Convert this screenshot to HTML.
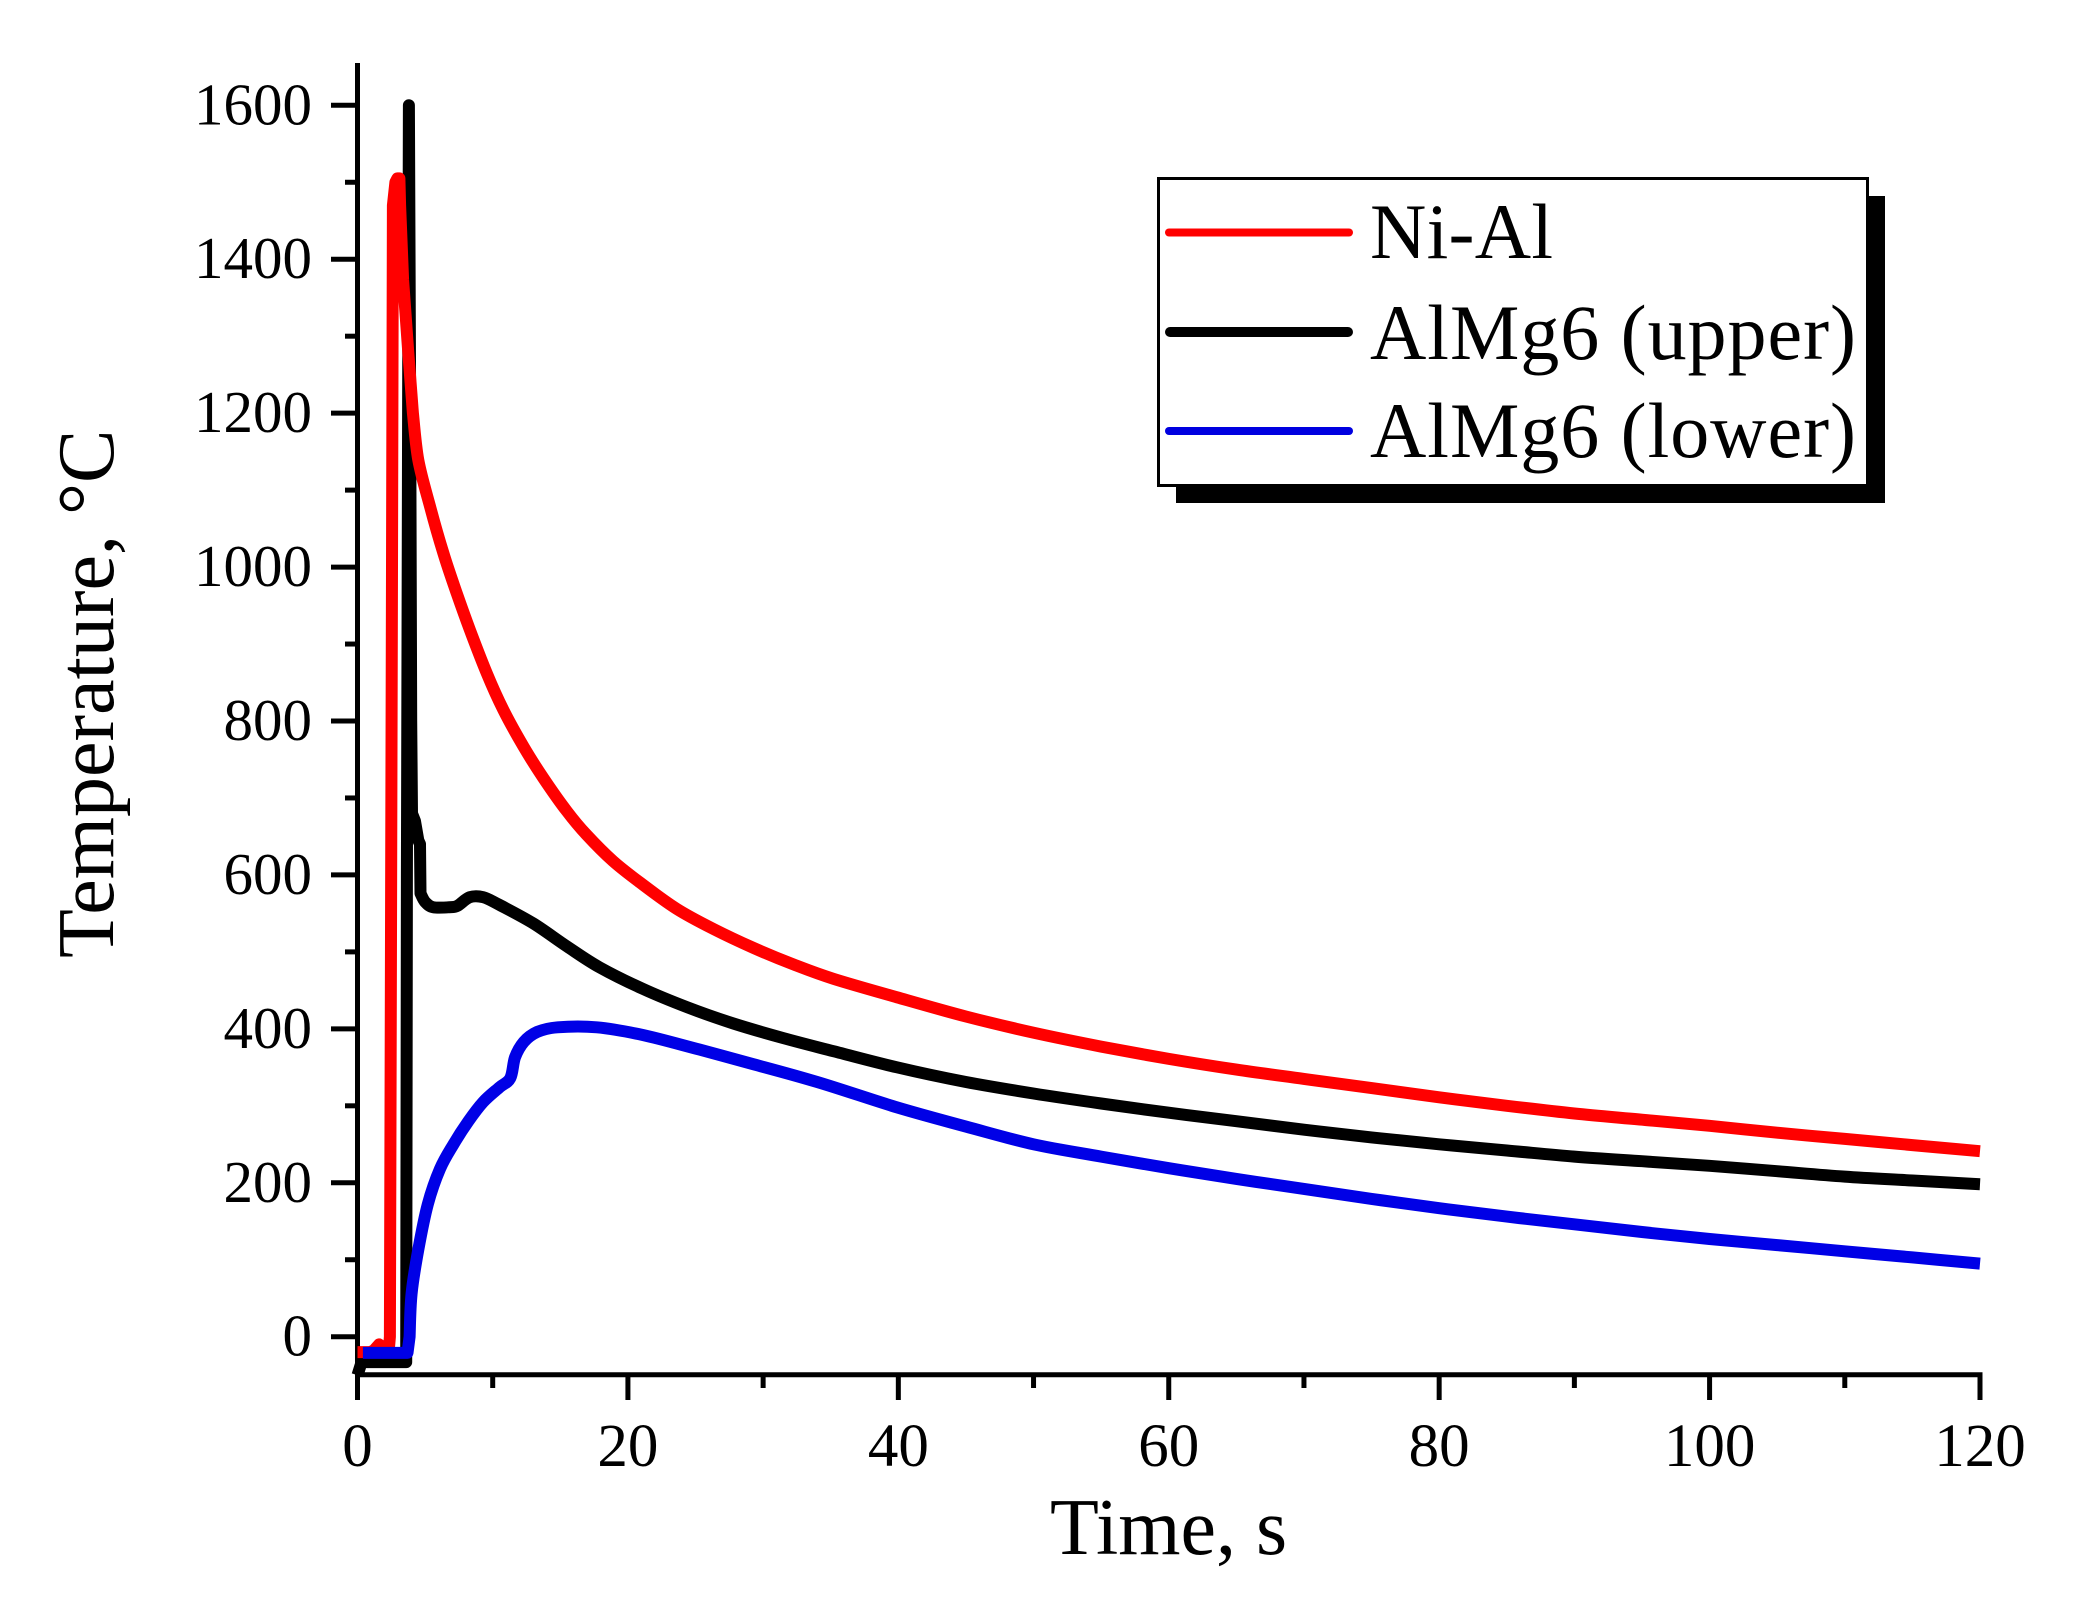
<!DOCTYPE html>
<html lang="en">
<head>
<meta charset="utf-8">
<title>Temperature vs time</title>
<style>
html,body{margin:0;padding:0;background:#fff;}
body{width:2091px;height:1611px;overflow:hidden;}
svg{display:block;font-family:"Liberation Serif",serif;fill:#000;}
</style>
</head>
<body>
<svg id="chart" xmlns="http://www.w3.org/2000/svg" width="2091" height="1611" viewBox="0 0 2091 1611">
  <rect x="0" y="0" width="2091" height="1611" fill="#fff"/>
  <g id="axes"></g>
  <g id="series"></g>
  <text transform="translate(113 958) rotate(-90)" font-size="80">Temperature, °C</text>
  <text x="1050" y="1554" font-size="80">Time, s</text>
  <g>
    <rect x="1176" y="196" width="709" height="307" fill="#000"/>
    <rect x="1158.5" y="178.5" width="709" height="307" fill="#fff" stroke="#000" stroke-width="3"/>
    <line x1="1169" y1="232.5" x2="1349" y2="232.5" stroke="#ff0000" stroke-width="8" stroke-linecap="round"/>
    <text x="1370" y="258" font-size="78" textLength="183">Ni-Al</text>
    <line x1="1170" y1="332" x2="1348" y2="332" stroke="#000" stroke-width="10" stroke-linecap="round"/>
    <text x="1370" y="359" font-size="78" textLength="486">AlMg6 (upper)</text>
    <line x1="1169" y1="431" x2="1349" y2="431" stroke="#0000e0" stroke-width="8" stroke-linecap="round"/>
    <text x="1370" y="457" font-size="78" textLength="486">AlMg6 (lower)</text>
  </g>
</svg>
<script>
// Chart data
var xTickLabels = [0, 20, 40, 60, 80, 100, 120];
var yTickLabels = [0, 200, 400, 600, 800, 1000, 1200, 1400, 1600];
var xMinorValues = [10, 30, 50, 70, 90, 110];
var yMinorValues = [100, 300, 500, 700, 900, 1100, 1300, 1500];

var niAlTime = [0, 0.9, 1.2, 1.6, 2.0, 2.3, 2.4, 2.55, 2.62, 2.8, 2.95, 3.1, 3.15, 3.37, 3.74, 4.1, 4.5, 5.36, 6.35, 7.34, 8.32, 9.56, 10.8, 12.27, 13.74, 15.47, 16.95, 18.9, 20.9, 23.6, 26.3, 29.3, 32.2, 35.2, 39.9, 45, 50, 55, 60, 65, 70, 75, 80, 85, 90, 95, 100, 105, 110, 115, 120];
var niAlTemp = [-20, -20, -18, -10, -18, -20, 0, 1000, 1470, 1500, 1505, 1505, 1470, 1373, 1282, 1200, 1139, 1079, 1018, 966, 918, 862, 814, 767, 726, 683, 652, 618, 590, 556, 530, 505, 484, 465, 441, 416, 395, 377, 361, 347, 335, 323, 311, 300, 290, 282, 274, 265, 257, 249, 241];

var upperTime = [0, 0.3, 1, 2, 3, 3.6, 3.65, 3.8, 3.9, 3.97, 4.03, 4.25, 4.5, 4.62, 4.66, 5, 5.6, 6.8, 7.4, 8.3, 9.3, 10.5, 13, 15.5, 17.9, 21.1, 24.4, 27.8, 31.5, 35.2, 39.9, 45, 50, 55, 60, 65, 70, 75, 80, 85, 90, 95, 100, 105, 110, 115, 120];
var upperTemp = [-50, -33, -33, -33, -33, -33, 600, 1600, 1200, 800, 680, 670, 645, 640, 576, 565, 558, 558, 560, 571, 571, 561, 537, 507, 480, 452, 428, 407, 388, 371, 350, 331, 316, 303, 291, 280, 269, 259, 250, 242, 234, 228, 222, 215, 208, 203, 198];

var lowerTime = [0.4, 1, 2, 3, 3.7, 3.85, 4.0, 4.5, 5.2, 6.1, 7.1, 8.2, 9.3, 10.5, 11.3, 11.65, 12.3, 13.3, 14.8, 17.7, 21.1, 25.3, 29.3, 34, 39.9, 45, 50, 55, 60, 65, 70, 75, 80, 85, 90, 95, 100, 105, 110, 115, 120];
var lowerTemp = [-21, -21, -21, -21, -21, 0, 56, 113, 172, 218, 250, 280, 305, 324, 336, 363, 383, 396, 402, 402, 392, 373, 354, 331, 298, 273, 250, 234, 219, 205, 192, 179, 167, 156, 146, 136, 127, 119, 111, 103, 95];

// Axis functions
function xScale(t) { return 357.5 + (t / 120) * 1622.5; }
function yScale(v) { return 1336.7 - (v / 1600) * 1231.4; }

var NS = 'http://www.w3.org/2000/svg';
var axes = document.getElementById('axes');
var seriesGroup = document.getElementById('series');

function makeLine(x1, y1, x2, y2) {
  var el = document.createElementNS(NS, 'line');
  el.setAttribute('x1', x1);
  el.setAttribute('y1', y1);
  el.setAttribute('x2', x2);
  el.setAttribute('y2', y2);
  el.setAttribute('stroke', '#000');
  el.setAttribute('stroke-width', 5);
  axes.appendChild(el);
  return el;
}

var yAxisLine = makeLine(xScale(0), 63, xScale(0), 1400);



var xAxisLine = makeLine(xScale(0), 1374.7, xScale(120) + 2.5, 1374.7);



yTickLabels.forEach(function (v) {
  var tick = makeLine(331, yScale(v), xScale(0), yScale(v));
  
  
  var label = document.createElementNS(NS, 'text');
  
  
  label.setAttribute('x', 312);
  label.setAttribute('y', yScale(v) + 19);
  label.setAttribute('font-size', 59);
  label.setAttribute('text-anchor', 'end');
  label.textContent = String(v);
  axes.appendChild(label);
});

yMinorValues.forEach(function (v) {
  var tick = makeLine(345, yScale(v), xScale(0), yScale(v));
  
  
});

xTickLabels.forEach(function (t) {
  var tick = makeLine(xScale(t), 1374.7, xScale(t), 1400);
  
  
  var label = document.createElementNS(NS, 'text');
  
  
  label.setAttribute('x', xScale(t));
  label.setAttribute('y', 1466);
  label.setAttribute('font-size', 61);
  label.setAttribute('text-anchor', 'middle');
  label.textContent = String(t);
  axes.appendChild(label);
});

xMinorValues.forEach(function (t) {
  var tick = makeLine(xScale(t), 1374.7, xScale(t), 1388);
  
  
});

// Straight segments through the sharp spike, Catmull-Rom smoothing after smoothFrom
function makeSeries(times, temps, color, smoothFrom) {
  var px = times.map(xScale);
  var py = temps.map(yScale);
  var d = 'M' + px[0].toFixed(1) + ' ' + py[0].toFixed(1);
  for (var i = 0; i < px.length - 1; i++) {
    if (times[i] >= smoothFrom) {
      var p0 = Math.max(i - 1, 0);
      var p3 = Math.min(i + 2, px.length - 1);
      var prevOk = times[p0] >= smoothFrom ? p0 : i;
      var c1x = px[i] + (px[i + 1] - px[prevOk]) / 6;
      var c1y = py[i] + (py[i + 1] - py[prevOk]) / 6;
      var c2x = px[i + 1] - (px[p3] - px[i]) / 6;
      var c2y = py[i + 1] - (py[p3] - py[i]) / 6;
      d += 'C' + c1x.toFixed(1) + ' ' + c1y.toFixed(1) + ' ' + c2x.toFixed(1) + ' ' + c2y.toFixed(1) + ' ' + px[i + 1].toFixed(1) + ' ' + py[i + 1].toFixed(1);
    } else {
      d += 'L' + px[i + 1].toFixed(1) + ' ' + py[i + 1].toFixed(1);
    }
  }
  var el = document.createElementNS(NS, 'path');
  el.setAttribute('d', d);
  el.setAttribute('fill', 'none');
  el.setAttribute('stroke', color);
  el.setAttribute('stroke-width', 12);
  el.setAttribute('stroke-linejoin', 'round');
  seriesGroup.appendChild(el);
  return el;
}

var upperLine = makeSeries(upperTime, upperTemp, '#000000', 4.66);



var niAlLine = makeSeries(niAlTime, niAlTemp, '#ff0000', 4.1);



var lowerLine = makeSeries(lowerTime, lowerTemp, '#0000e6', 3.85);


</script>
</body>
</html>
